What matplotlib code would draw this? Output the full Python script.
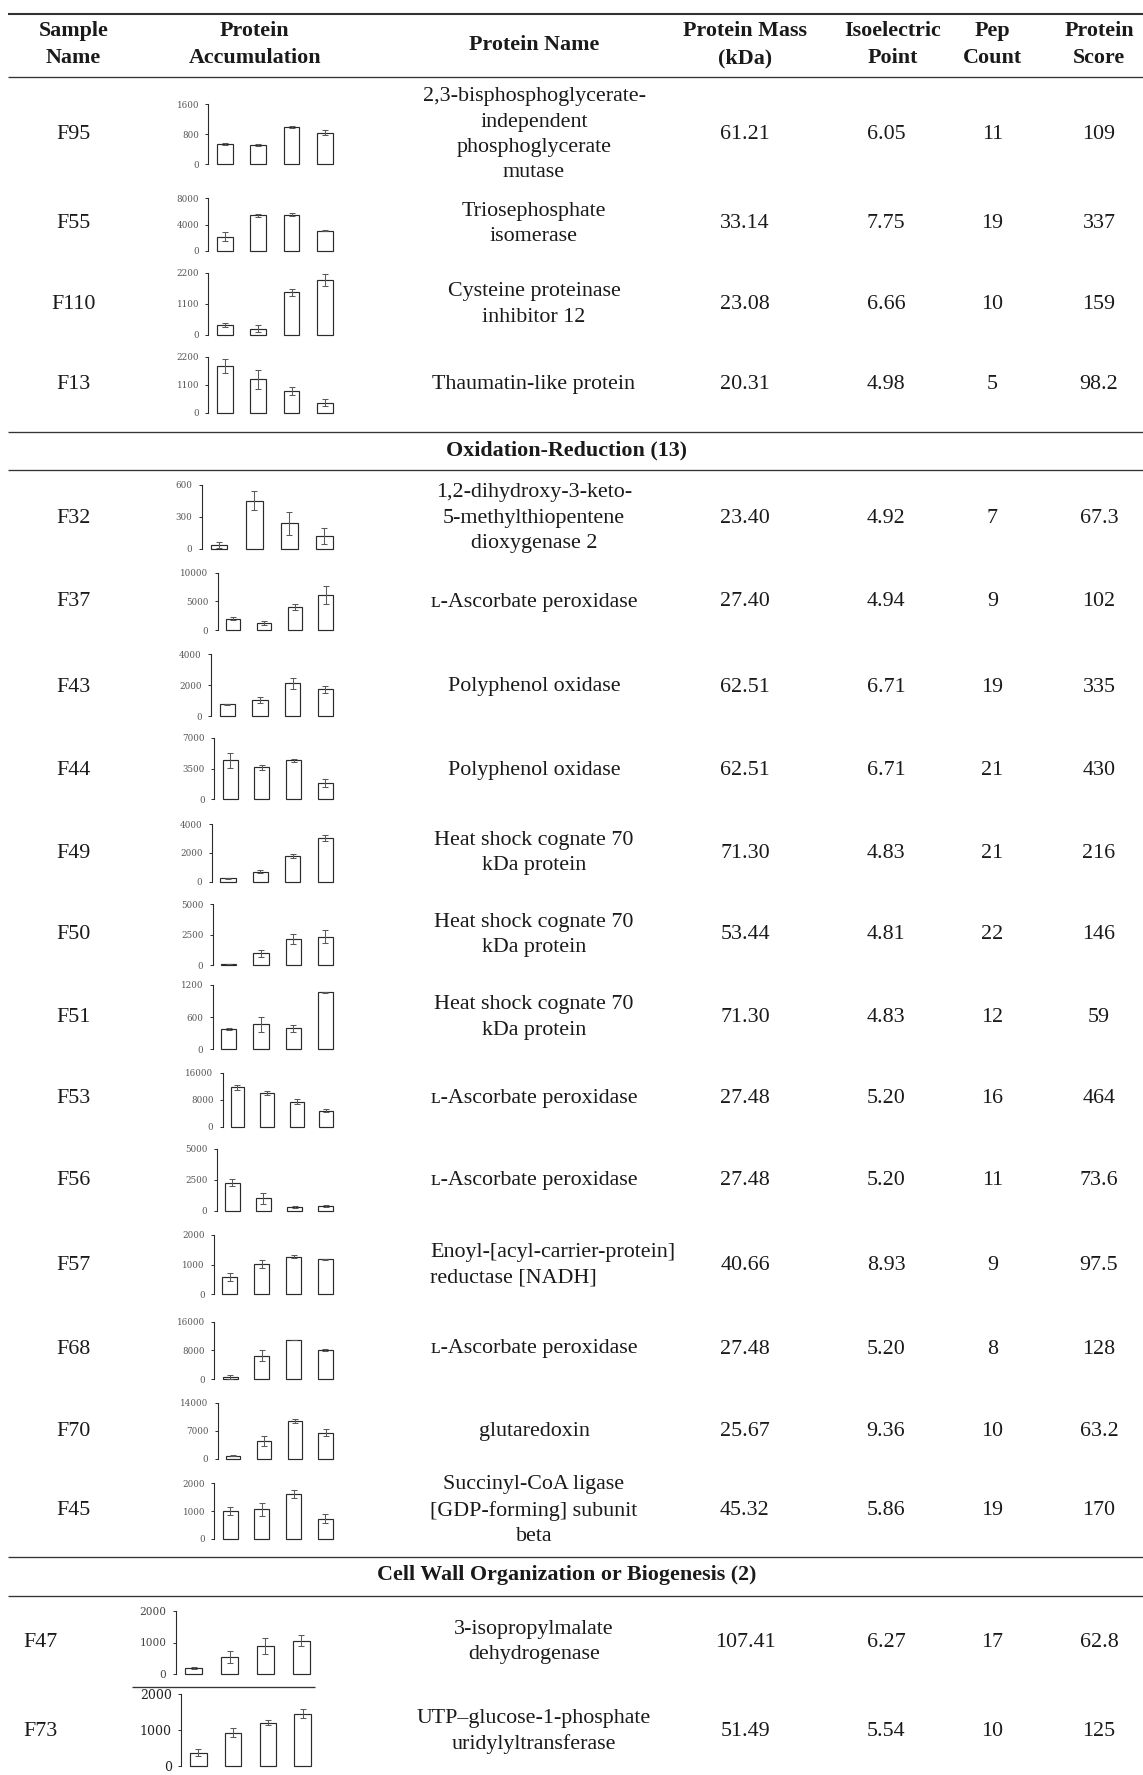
import numpy as np
import matplotlib.pyplot as plt

plt.rcParams['font.family'] = ['Liberation Serif', 'DejaVu Serif']

W, H = 1143, 1775

# table contents
samples = ['F95', 'F55', 'F110', 'F13', 'F32', 'F37', 'F43', 'F44', 'F49', 'F50',
           'F51', 'F53', 'F56', 'F57', 'F68', 'F70', 'F45', 'F47', 'F73']
protein_names = [
    '2,3-bisphosphoglycerate-\nindependent\nphosphoglycerate\nmutase',
    'Triosephosphate\nisomerase',
    'Cysteine proteinase\ninhibitor 12',
    'Thaumatin-like protein',
    '1,2-dihydroxy-3-keto-\n5-methylthiopentene\ndioxygenase 2',
    'ʟ-Ascorbate peroxidase',
    'Polyphenol oxidase',
    'Polyphenol oxidase',
    'Heat shock cognate 70\nkDa protein',
    'Heat shock cognate 70\nkDa protein',
    'Heat shock cognate 70\nkDa protein',
    'ʟ-Ascorbate peroxidase',
    'ʟ-Ascorbate peroxidase',
    'Enoyl-[acyl-carrier-protein]\nreductase [NADH]',
    'ʟ-Ascorbate peroxidase',
    'glutaredoxin',
    'Succinyl-CoA ligase\n[GDP-forming] subunit\nbeta',
    '3-isopropylmalate\ndehydrogenase',
    'UTP–glucose-1-phosphate\nuridylyltransferase',
]
protein_mass = [61.21, 33.14, 23.08, 20.31, 23.40, 27.40, 62.51, 62.51, 71.30, 53.44,
                71.30, 27.48, 27.48, 40.66, 27.48, 25.67, 45.32, 107.41, 51.49]
isoelectric = [6.05, 7.75, 6.66, 4.98, 4.92, 4.94, 6.71, 6.71, 4.83, 4.81,
               4.83, 5.20, 5.20, 8.93, 5.20, 9.36, 5.86, 6.27, 5.54]
pep_count = [11, 19, 10, 5, 7, 9, 19, 21, 21, 22, 12, 16, 11, 9, 8, 10, 19, 17, 10]
protein_score = [109, 337, 159, 98.2, 67.3, 102, 335, 430, 216, 146,
                 59, 464, 73.6, 97.5, 128, 63.2, 170, 62.8, 125]

# protein accumulation (four samples each) and error bars
y_max = [1600, 8000, 2200, 2200, 600, 10000, 4000, 7000, 4000, 5000,
         1200, 16000, 5000, 2000, 16000, 14000, 2000, 2000, 2000]
accum = [
    [551, 516, 987, 840],
    [2127, 5418, 5519, 3089],
    [353, 224, 1506, 1941],
    [1833, 1310, 851, 393],
    [41, 453, 241, 119],
    [1977, 1279, 4012, 6047],
    [757, 1038, 2119, 1730],
    [4427, 3632, 4427, 1892],
    [233, 698, 1791, 3070],
    [82, 962, 2115, 2335],
    [385, 466, 392, 1063],
    [11654, 9877, 7407, 4741],
    [2273, 1016, 348, 428],
    [565, 1006, 1266, 1175],
    [555, 6566, 10913, 8139],
    [828, 4556, 9444, 6544],
    [1006, 1066, 1617, 731],
    [180, 529, 889, 1058],
    [372, 930, 1209, 1460],
]
accum_err = [
    [30, 15, 25, 65],
    [683, 200, 200, 100],
    [82, 118, 118, 224],
    [275, 370, 157, 144],
    [28, 87, 108, 75],
    [230, 350, 465, 1570],
    [20, 216, 346, 216],
    [832, 265, 190, 454],
    [50, 116, 140, 209],
    [20, 275, 426, 550],
    [19, 143, 62, 12],
    [690, 590, 790, 490],
    [294, 455, 80, 80],
    [135, 135, 56, 23],
    [555, 1572, 90, 370],
    [50, 1243, 497, 828],
    [156, 228, 144, 168],
    [32, 190, 265, 169],
    [93, 121, 65, 130],
]

headers = ['Sample\nName', 'Protein\nAccumulation', 'Protein Name',
           'Protein Mass\n(kDa)', 'Isoelectric\nPoint', 'Pep\nCount', 'Protein\nScore']
sections = {4: 'Oxidation-Reduction (13)', 17: 'Cell Wall Organization or Biogenesis (2)'}

# layout in pixels (x from left, y from top)
header_x = [73.6, 254.6, 534, 745, 893, 992.5, 1099]
col_x = [73.6, None, 534, 745, 886, 992.5, 1099]
row_y = [134.7, 224, 304.4, 384.8, 518.3, 602, 687, 770.7, 853.3, 934.8,
         1017.4, 1098.9, 1180.4, 1265.3, 1349, 1431.6, 1510.8, 1642.1, 1731.5]
section_y = {4: 450.4, 17: 1575.3}
rule_y = [77.3, 432.3, 469.5, 1557.2, 1595.7]
# (axis x, top y, zero y, right x) of each little bar chart
chart_box = [
    (208.3, 104.3, 164.3, 335), (208.3, 198.3, 251, 335), (208.3, 272.7, 335, 335),
    (208.3, 356.7, 412.7, 335), (201.7, 485, 549, 335), (217.7, 572.7, 630, 335),
    (211, 654.3, 716, 335), (214.3, 737.7, 799.3, 335), (211.7, 824.3, 881.7, 335),
    (212.7, 904.3, 965, 335), (212.7, 985, 1049.3, 335), (222.7, 1072.7, 1126.7, 335),
    (216.7, 1148.7, 1211, 335), (214, 1235, 1294, 335), (214.3, 1321.7, 1379.3, 335),
    (217.7, 1402.7, 1459, 335), (214.3, 1483.3, 1539, 335), (175.7, 1611, 1674, 312),
    (181, 1694.3, 1766, 313),
]

FS = 15.8
LS = 1.45
INK = '#1a1a1a'

fig = plt.figure(figsize=(W / 100, H / 100), dpi=100)
base = fig.add_axes([0, 0, 1, 1])
base.set_xlim(0, W)
base.set_ylim(H, 0)
base.axis('off')

# rules
base.plot([8, W], [13.6, 13.6], color='#333333', lw=1.5, solid_capstyle='butt')
for y in rule_y:
    base.plot([8, W], [y, y], color='#333333', lw=0.95, solid_capstyle='butt')
base.plot([132, 315], [1687.3, 1687.3], color='#333333', lw=0.95, solid_capstyle='butt')

for x, h in zip(header_x, headers):
    base.text(x, 44.7, h, ha='center', va='center', fontsize=FS, fontweight='bold',
              color=INK, linespacing=LS)

for i, name in sections.items():
    base.text(567, section_y[i], name, ha='center', va='center', fontsize=FS,
              fontweight='bold', color=INK)

for i, s in enumerate(samples):
    y = row_y[i]
    sx = 40.7 if i >= 17 else col_x[0]
    base.text(sx, y, s, ha='center', va='center', fontsize=FS, color=INK)
    if s == 'F57':
        base.text(430, y, protein_names[i], ha='left', va='center', fontsize=FS,
                  color=INK, linespacing=LS, multialignment='left')
    else:
        base.text(col_x[2], y, protein_names[i], ha='center', va='center', fontsize=FS,
                  color=INK, linespacing=LS, multialignment='center')
    base.text(col_x[3], y, f'{protein_mass[i]:.2f}', ha='center', va='center', fontsize=FS, color=INK)
    base.text(col_x[4], y, f'{isoelectric[i]:.2f}', ha='center', va='center', fontsize=FS, color=INK)
    base.text(col_x[5], y, f'{pep_count[i]}', ha='center', va='center', fontsize=FS, color=INK)
    base.text(col_x[6], y, f'{protein_score[i]:g}', ha='center', va='center', fontsize=FS, color=INK)

    # accumulation bar chart
    ax_x, top, zero, right = chart_box[i]
    ax = fig.add_axes([ax_x / W, 1 - zero / H, (right - ax_x) / W, (zero - top) / H])
    ax.patch.set_alpha(0)
    pos = np.arange(4)
    ax.bar(pos, accum[i], width=0.47, color='white', edgecolor='#2b2b2b',
           linewidth=0.85, clip_on=False)
    ax.errorbar(pos, accum[i], yerr=accum_err[i], fmt='none', ecolor='#5a5a5a',
                elinewidth=0.75, capsize=2.3, capthick=0.75, clip_on=False)
    ax.set_xlim(-0.5, 3.3)
    ax.set_ylim(0, y_max[i])
    ticks = [0, y_max[i] // 2, y_max[i]]
    ax.set_yticks(ticks)
    ax.set_yticklabels([str(t) for t in ticks])
    ax.set_xticks([])
    for side in ['top', 'right', 'bottom']:
        ax.spines[side].set_visible(False)
    ax.spines['left'].set_linewidth(0.8)
    ax.spines['left'].set_color('#2b2b2b')
    if s == 'F73':
        lsize, lcol = 9.0, '#222222'
    elif s == 'F47':
        lsize, lcol = 7.6, '#444444'
    else:
        lsize, lcol = 6.3, '#555555'
    ax.tick_params(axis='y', length=2.2, width=0.7, pad=4.5, labelsize=lsize,
                   labelcolor=lcol, color='#2b2b2b')
    for lab in ax.get_yticklabels():
        lab.set_family(['DejaVu Serif'])

fig.savefig('out.png', dpi=100)
